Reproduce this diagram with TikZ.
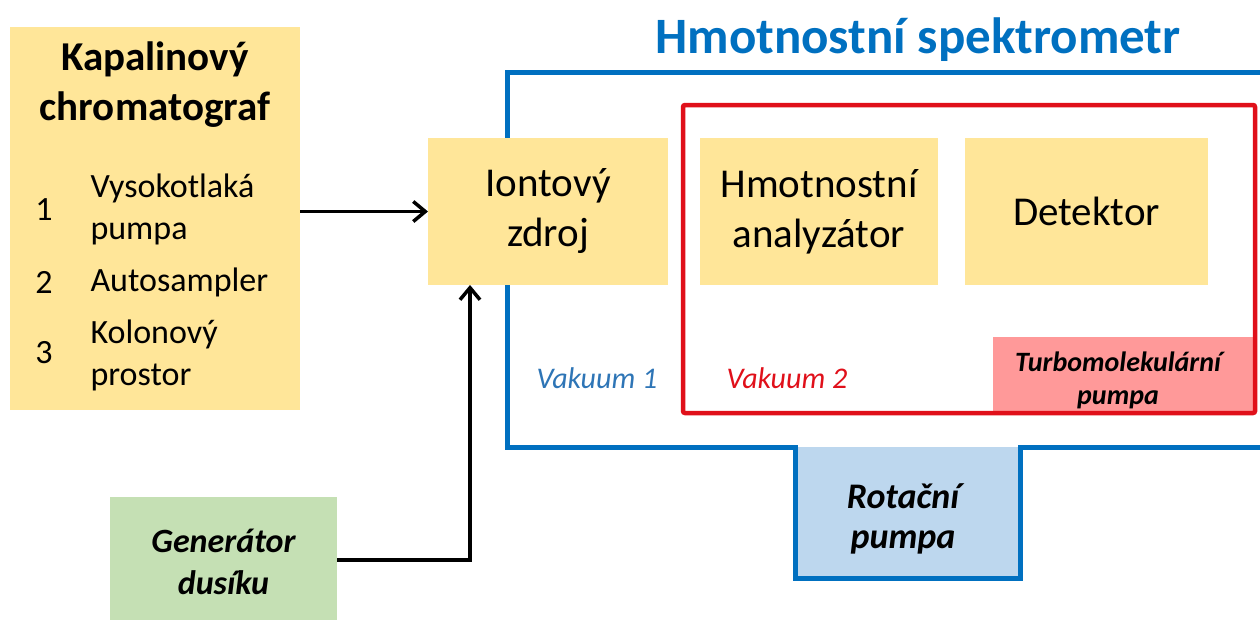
\documentclass[tikz,border=0pt]{standalone}
\usepackage{fontspec}
\setmainfont{Carlito}
\usepackage[svgnames]{xcolor}
\definecolor{boxyellow}{HTML}{FFE699}
\definecolor{boxgreen}{HTML}{C5E0B4}
\definecolor{boxblue}{HTML}{BDD7EE}
\definecolor{boxpink}{HTML}{FF9999}
\definecolor{msblue}{HTML}{0070C0}
\definecolor{vacblue}{HTML}{2E75B6}
\definecolor{vacred}{HTML}{E0101A}
\usetikzlibrary{arrows.meta}

\begin{document}
\begin{tikzpicture}[x=1pt,y=-1pt,
		unit/.style={fill=#1, inner sep=0pt, outer sep=0pt},
		big/.style={font=\fontsize{41}{50}\selectfont, align=center},
		item/.style={font=\fontsize{34}{42}\selectfont, align=left},
		pumplabel/.style={font=\fontsize{34}{42}\selectfont\bfseries\itshape, align=center},
		flow/.style={line width=3.5pt, -{Straight Barb[length=12pt,width=20pt,line width=3.5pt]}}]
		\useasboundingbox (0,0) rectangle (1260,619);
		\draw[msblue, line width=5pt] (1265,72) -- (507,72) -- (507,447) -- (795,447) -- (795,578) -- (1020,578) -- (1020,447) -- (1265,447);
		\node[unit=boxblue, minimum width=220pt, minimum height=128.5pt] (rot) at (907.5,511.25) {};
		\node[pumplabel, font=\fontsize{36}{40}\selectfont\bfseries\itshape] (rottext) at (903,519) {Rotační\\pumpa};
		\node[unit=boxpink, minimum width=262pt, minimum height=76pt] (turbo) at (1124,375) {};
		\node[font=\fontsize{28}{33}\selectfont\bfseries\itshape, align=center] (turbotext) at (1118,380) {Turbomolekulární\\pumpa};
		\draw[vacred, line width=4.5pt, rounded corners=2pt] (683,105) rectangle (1255,413);
		\node[msblue, font=\fontsize{51}{55}\selectfont\bfseries] (mstitle) at (918,40) {Hmotnostní spektrometr};
		\node[unit=boxyellow, minimum width=290pt, minimum height=383pt] (chrom) at (155,218.5) {};
		\node[font=\fontsize{41}{50}\selectfont\bfseries, align=center] (chromtitle) at (155,85) {Kapalinový\\chromatograf};
		\node[item] (num1) at (44,210) {1};
		\node[item, anchor=west] (item1) at (87,209) {Vysokotlaká\\pumpa};
		\node[item] (num2) at (44,282) {2};
		\node[item, anchor=west] (item2) at (87,282) {Autosampler};
		\node[item] (num3) at (44,353) {3};
		\node[item, anchor=west] (item3) at (87,355) {Kolonový\\prostor};
		\node[unit=boxyellow, minimum width=240pt, minimum height=147pt, big] (ion) at (548,211.5) {Iontový\\zdroj};
		\node[unit=boxyellow, minimum width=238pt, minimum height=147pt, big] (analyzer) at (819,211.5) {Hmotnostní\\analyzátor};
		\node[unit=boxyellow, minimum width=243pt, minimum height=147pt, big] (detector) at (1086.5,211.5) {Detektor};
		\node[vacblue, font=\fontsize{30}{36}\selectfont\itshape] (vac1) at (597,378) {Vakuum 1};
		\node[vacred, font=\fontsize{30}{36}\selectfont\itshape] (vac2) at (787,378) {Vakuum 2};
		\node[unit=boxgreen, minimum width=227pt, minimum height=130pt] (gen) at (223.5,562) {};
		\node[pumplabel] (gentext) at (223.5,562) {Generátor\\dusíku};
		\coordinate (ionin) at (470,285);
		\draw[flow] (chrom.east |- ion.west) -- (ion.west);
		\draw[flow] (gen.east |- 0,560) -| (ionin);
	\end{tikzpicture}
\end{document}
